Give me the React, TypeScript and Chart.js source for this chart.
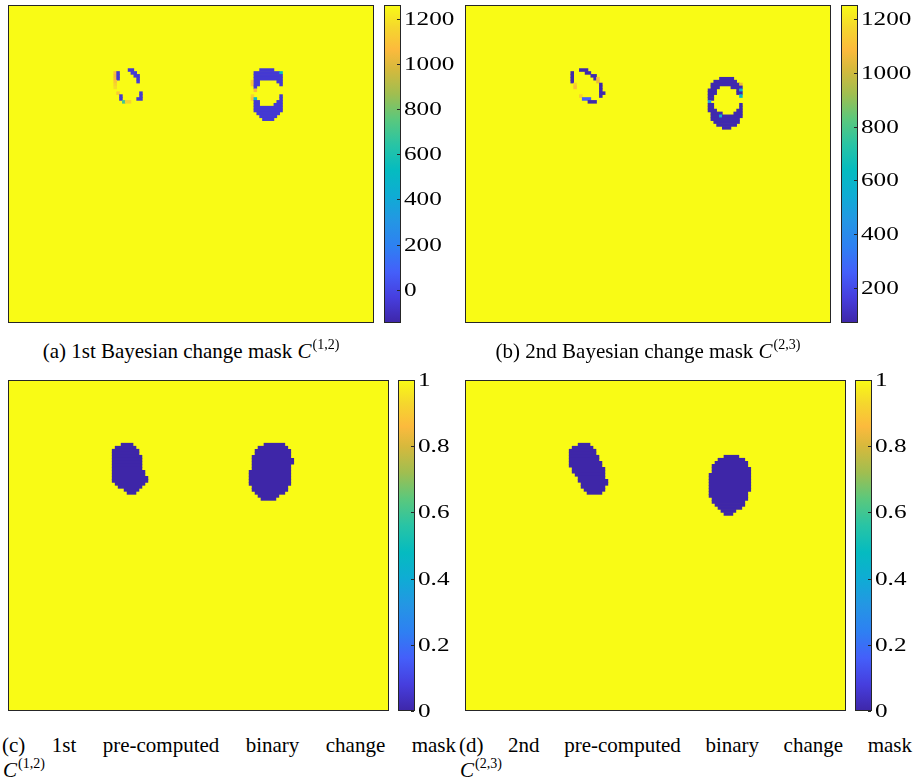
import React, { useEffect, useRef } from 'react';
import { Chart, registerables } from 'chart.js';

Chart.register(...registerables);

// Grid size of every change map
const COLS = 128;
const ROWS = 110;

// Colour limits of the four maps
const climA = [-148, 1262];
const climB = [70, 1252];
const climBinary = [0, 1];

// Colour-bar tick values and labels
const ticksA = [0, 200, 400, 600, 800, 1000, 1200];
const ticksB = [200, 400, 600, 800, 1000, 1200];
const ticksBinary = [0, 0.2, 0.4, 0.6, 0.8, 1];
const tickLabelsA = ['0', '200', '400', '600', '800', '1000', '1200'];
const tickLabelsB = ['200', '400', '600', '800', '1000', '1200'];
const tickLabelsBinary = ['0', '0.2', '0.4', '0.6', '0.8', '1'];

// Value of the unchanged area of each map
const backgroundA = 1262;
const backgroundB = 1252;
const backgroundBinary = 1;

// Changed cells, one run per entry: [row, first column, column after last, value]
const runsA = [
  [22, 42, 44, -60],
  [23, 37, 38, 1080], [23, 38, 39, -60], [23, 43, 45, -60],
  [24, 37, 38, 1040], [24, 38, 39, -60], [24, 44, 46, -60],
  [25, 37, 38, 1060], [25, 38, 39, -60], [25, 45, 46, -60],
  [26, 37, 38, 1100], [26, 45, 46, -40],
  [27, 37, 38, 1150],
  [28, 37, 38, 1180],
  [30, 38, 39, 1120], [30, 46, 47, -60],
  [31, 39, 40, -60], [31, 46, 47, -60],
  [32, 39, 40, -60], [32, 45, 47, -60],
  [33, 40, 41, 700], [33, 41, 43, 1150],
  [22, 88, 93, -60],
  [23, 86, 95, -60], [23, 95, 96, 520],
  [24, 86, 96, -60],
  [25, 86, 96, -60],
  [26, 85, 86, 1100], [26, 86, 88, -60], [26, 94, 96, -60],
  [27, 85, 86, 1080], [27, 86, 88, -60], [27, 95, 96, -60],
  [28, 86, 87, -60],
  [29, 86, 87, 1050],
  [31, 85, 86, 1150], [31, 95, 96, -60],
  [32, 85, 86, 1100], [32, 86, 87, 480], [32, 95, 96, -60],
  [33, 86, 88, -60], [33, 94, 96, -60],
  [34, 86, 88, -60], [34, 93, 96, -60],
  [35, 86, 96, -60],
  [36, 86, 96, -60],
  [37, 87, 95, -60],
  [38, 88, 94, -60],
  [39, 89, 93, -60],
];

const runsB = [
  [22, 40, 43, 80],
  [23, 37, 38, 80], [23, 42, 44, 80],
  [24, 37, 38, 80], [24, 44, 46, 80],
  [25, 37, 38, 80], [25, 45, 46, 80], [25, 46, 47, 1100],
  [26, 37, 38, 80], [26, 46, 47, 1050],
  [27, 38, 39, 1150], [27, 47, 48, 80],
  [28, 38, 39, 1100], [28, 47, 48, 80],
  [29, 47, 48, 80],
  [30, 47, 49, 80],
  [31, 40, 41, 1150], [31, 47, 48, 80],
  [32, 41, 44, 260],
  [33, 43, 46, 80],
  [25, 89, 94, 80],
  [26, 87, 95, 80],
  [27, 86, 96, 80], [27, 96, 97, 1050],
  [28, 86, 89, 80], [28, 93, 97, 80],
  [29, 85, 88, 80], [29, 95, 96, 80], [29, 96, 97, 520],
  [30, 85, 88, 80], [30, 95, 97, 80],
  [31, 85, 87, 80], [31, 96, 97, 600],
  [32, 85, 87, 80],
  [33, 85, 86, 480],
  [34, 85, 87, 80], [34, 96, 97, 80],
  [35, 85, 87, 80], [35, 96, 97, 80],
  [36, 85, 88, 80], [36, 95, 97, 80],
  [37, 86, 90, 80], [37, 94, 97, 80],
  [38, 86, 89, 80], [38, 89, 90, 560], [38, 90, 97, 80],
  [39, 86, 96, 80],
  [40, 87, 96, 80],
  [41, 88, 95, 80],
  [42, 90, 93, 80],
];

const runsC = [
  [21, 38, 42, 0], [22, 36, 43, 0], [23, 35, 44, 0], [24, 35, 44, 0],
  [25, 35, 45, 0], [26, 35, 45, 0], [27, 35, 45, 0], [28, 35, 45, 0],
  [29, 35, 45, 0], [30, 35, 46, 0], [31, 35, 46, 0], [32, 35, 47, 0],
  [33, 35, 47, 0], [34, 36, 46, 0], [35, 37, 45, 0], [36, 39, 44, 0],
  [37, 40, 43, 0],
  [21, 86, 93, 0], [22, 84, 94, 0], [23, 83, 95, 0], [24, 83, 95, 0],
  [25, 82, 95, 0], [26, 82, 96, 0], [27, 82, 96, 0], [28, 82, 95, 0],
  [29, 82, 95, 0], [30, 81, 95, 0], [31, 81, 95, 0], [32, 81, 95, 0],
  [33, 81, 95, 0], [34, 81, 95, 0], [35, 82, 94, 0], [36, 82, 94, 0],
  [37, 83, 93, 0], [38, 84, 91, 0], [39, 85, 90, 0],
];

const runsD = [
  [21, 38, 42, 0], [22, 36, 43, 0], [23, 35, 44, 0], [24, 35, 44, 0],
  [25, 35, 45, 0], [26, 35, 45, 0], [27, 35, 46, 0], [28, 35, 46, 0],
  [29, 36, 47, 0], [30, 36, 47, 0], [31, 37, 47, 0], [32, 38, 47, 0],
  [33, 38, 48, 0], [34, 39, 48, 0], [35, 39, 47, 0], [36, 40, 47, 0],
  [37, 41, 46, 0],
  [25, 87, 92, 0], [26, 85, 94, 0], [27, 84, 95, 0], [28, 83, 95, 0],
  [29, 83, 96, 0], [30, 83, 96, 0], [31, 82, 96, 0], [32, 82, 96, 0],
  [33, 82, 96, 0], [34, 82, 96, 0], [35, 82, 96, 0], [36, 82, 96, 0],
  [37, 82, 95, 0], [38, 82, 95, 0], [39, 83, 95, 0], [40, 83, 94, 0],
  [41, 84, 94, 0], [42, 85, 93, 0], [43, 86, 91, 0], [44, 87, 90, 0],
];

// Parula colour map stops: [position, r, g, b]
const PARULA = [
  [0.0, 62, 38, 168],
  [0.08, 70, 62, 222],
  [0.16, 68, 95, 250],
  [0.24, 46, 128, 242],
  [0.32, 36, 150, 228],
  [0.4, 15, 172, 212],
  [0.48, 5, 187, 192],
  [0.56, 40, 196, 165],
  [0.64, 90, 200, 125],
  [0.72, 160, 190, 80],
  [0.8, 215, 185, 60],
  [0.86, 252, 186, 61],
  [0.93, 245, 215, 45],
  [1.0, 249, 251, 21],
];

function parula(t: number): string {
  const u = Math.min(1, Math.max(0, t));
  for (let i = 1; i < PARULA.length; i++) {
    const a = PARULA[i - 1];
    const b = PARULA[i];
    if (u <= b[0]) {
      const f = (u - a[0]) / (b[0] - a[0]);
      const c = [1, 2, 3].map((k) => Math.round(a[k] + (b[k] - a[k]) * f));
      return `rgb(${c[0]},${c[1]},${c[2]})`;
    }
  }
  return 'rgb(249,251,21)';
}

function colourFor(v: number, clim: number[]): string {
  return parula((v - clim[0]) / (clim[1] - clim[0]));
}

const FRAME = '#262626';

const framePlugin = {
  id: 'frame',
  afterDraw(chart: any) {
    const { ctx, chartArea: a } = chart;
    ctx.save();
    ctx.strokeStyle = FRAME;
    ctx.lineWidth = 1;
    ctx.strokeRect(a.left + 0.5, a.top + 0.5, a.right - a.left - 1, a.bottom - a.top - 1);
    ctx.restore();
  },
};

type MapProps = {
  runs: number[][];
  background: number;
  clim: number[];
  left: number;
  top: number;
  width: number;
  height: number;
};

function ChangeMap({ runs, background, clim, left, top, width, height }: MapProps) {
  const ref = useRef<HTMLCanvasElement>(null);
  useEffect(() => {
    const chart = new Chart(ref.current as HTMLCanvasElement, {
      type: 'bar',
      data: {
        datasets: [
          {
            data: runs.map(([r, a, b, v]) => ({ y: r + 0.5, x: [a, b], v })) as any,
            backgroundColor: (c: any) => colourFor(c.raw ? c.raw.v : background, clim),
            borderWidth: 0,
            grouped: false,
            barThickness: height / ROWS,
            order: 1,
          },
          {
            data: [{ y: ROWS / 2 + 0.5, x: [0, COLS], v: background }] as any,
            backgroundColor: colourFor(background, clim),
            borderWidth: 0,
            grouped: false,
            barThickness: height + 10,
            order: 2,
          },
        ],
      },
      options: {
        indexAxis: 'y',
        animation: false,
        responsive: false,
        events: [],
        layout: { padding: 0 },
        plugins: { legend: { display: false }, tooltip: { enabled: false } },
        scales: {
          x: { type: 'linear', min: 0, max: COLS, offset: false, display: false },
          y: {
            type: 'linear',
            min: 0,
            max: ROWS,
            reverse: true,
            offset: false,
            grid: { offset: false },
            display: false,
          },
        },
      } as any,
      plugins: [framePlugin],
    });
    return () => chart.destroy();
  }, []);
  return (
    <canvas
      ref={ref}
      width={width}
      height={height}
      style={{ position: 'absolute', left, top, width, height }}
    />
  );
}

const BAR_PAD = 16;
const LABEL_ROOM = 62;
const TICK_FONT = 18;
const TICK_STRETCH = 1.4;

type BarProps = {
  clim: number[];
  ticks: number[];
  labels: string[];
  left: number;
  top: number;
  barWidth: number;
  height: number;
};

function ColourBar({ clim, ticks, labels, left, top, barWidth, height }: BarProps) {
  const ref = useRef<HTMLCanvasElement>(null);
  const w = barWidth + LABEL_ROOM;
  const h = height + 2 * BAR_PAD;
  useEffect(() => {
    const tickPlugin = {
      id: 'colourbarTicks',
      afterDraw(chart: any) {
        const { ctx, chartArea: a } = chart;
        const y = chart.scales.y;
        ctx.save();
        ctx.strokeStyle = FRAME;
        ctx.lineWidth = 1;
        ctx.strokeRect(a.left + 0.5, a.top + 0.5, a.right - a.left - 1, a.bottom - a.top - 1);
        ctx.fillStyle = '#000';
        ctx.font = `${TICK_FONT}px "Liberation Serif", serif`;
        ctx.textBaseline = 'alphabetic';
        ticks.forEach((t, i) => {
          const py = Math.round(y.getPixelForValue(t)) + 0.5;
          ctx.beginPath();
          ctx.moveTo(a.right - 1, py);
          ctx.lineTo(a.right - 4, py);
          ctx.stroke();
          ctx.save();
          ctx.translate(a.right + 3, py + TICK_FONT * 0.33);
          ctx.scale(TICK_STRETCH, 1);
          ctx.fillText(labels[i], 0, 0);
          ctx.restore();
        });
        ctx.restore();
      },
    };
    const chart = new Chart(ref.current as HTMLCanvasElement, {
      type: 'bar',
      data: {
        labels: ['bar'],
        datasets: [
          {
            data: [[clim[0], clim[1]]] as any,
            backgroundColor: (c: any) => {
              const area = c.chart.chartArea;
              if (!area) return parula(1);
              const g = c.chart.ctx.createLinearGradient(0, area.bottom, 0, area.top);
              PARULA.forEach((s) => g.addColorStop(s[0], `rgb(${s[1]},${s[2]},${s[3]})`));
              return g;
            },
            borderWidth: 0,
            barPercentage: 1,
            categoryPercentage: 1,
          },
        ],
      },
      options: {
        animation: false,
        responsive: false,
        events: [],
        layout: { padding: { top: BAR_PAD, bottom: BAR_PAD, left: 0, right: LABEL_ROOM } },
        plugins: { legend: { display: false }, tooltip: { enabled: false } },
        scales: {
          x: { display: false },
          y: { type: 'linear', min: clim[0], max: clim[1], display: false },
        },
      } as any,
      plugins: [tickPlugin],
    });
    return () => chart.destroy();
  }, []);
  return (
    <canvas
      ref={ref}
      width={w}
      height={h}
      style={{ position: 'absolute', left, top: top - BAR_PAD, width: w, height: h }}
    />
  );
}

const captionFont = '"Liberation Serif", serif';
const CAPTION_SIZE = 21;

function MathC({ sup }: { sup: string }) {
  return (
    <span>
      <i>C</i>
      <span style={{ fontSize: 14, position: 'relative', top: -9, marginLeft: 1 }}>{sup}</span>
    </span>
  );
}

const captionStyle = {
  position: 'absolute',
  fontSize: CAPTION_SIZE,
  lineHeight: '26px',
  whiteSpace: 'nowrap',
} as const;

export default function App() {
  return (
    <div
      style={{
        position: 'absolute',
        left: 0,
        top: 0,
        width: 913,
        height: 782,
        background: '#fff',
        overflow: 'hidden',
        fontFamily: captionFont,
        color: '#000',
      }}
    >
      <ChangeMap runs={runsA} background={backgroundA} clim={climA} left={8} top={5} width={366} height={318} />
      <ColourBar clim={climA} ticks={ticksA} labels={tickLabelsA} left={384} top={5} barWidth={17} height={318} />
      <ChangeMap runs={runsB} background={backgroundB} clim={climB} left={465} top={5} width={366} height={318} />
      <ColourBar clim={climB} ticks={ticksB} labels={tickLabelsB} left={841} top={5} barWidth={17} height={318} />
      <ChangeMap runs={runsC} background={backgroundBinary} clim={climBinary} left={8} top={380} width={381} height={331} />
      <ColourBar clim={climBinary} ticks={ticksBinary} labels={tickLabelsBinary} left={398} top={380} barWidth={17} height={331} />
      <ChangeMap runs={runsD} background={backgroundBinary} clim={climBinary} left={465} top={380} width={381} height={331} />
      <ColourBar clim={climBinary} ticks={ticksBinary} labels={tickLabelsBinary} left={855} top={380} barWidth={17} height={331} />

      <div style={{ ...captionStyle, left: 8, top: 338, width: 366, textAlign: 'center' }}>
        (a) 1st Bayesian change mask <MathC sup="(1,2)" />
      </div>
      <div style={{ ...captionStyle, left: 465, top: 338, width: 366, textAlign: 'center' }}>
        (b) 2nd Bayesian change mask <MathC sup="(2,3)" />
      </div>
      <div style={{ ...captionStyle, left: 2, top: 732, width: 454, textAlign: 'justify', textAlignLast: 'justify' } as any}>
        (c) 1st pre-computed binary change mask
      </div>
      <div style={{ ...captionStyle, left: 3, top: 757 }}>
        <MathC sup="(1,2)" />
      </div>
      <div style={{ ...captionStyle, left: 459, top: 732, width: 453, textAlign: 'justify', textAlignLast: 'justify' } as any}>
        (d) 2nd pre-computed binary change mask
      </div>
      <div style={{ ...captionStyle, left: 460, top: 757 }}>
        <MathC sup="(2,3)" />
      </div>
    </div>
  );
}
